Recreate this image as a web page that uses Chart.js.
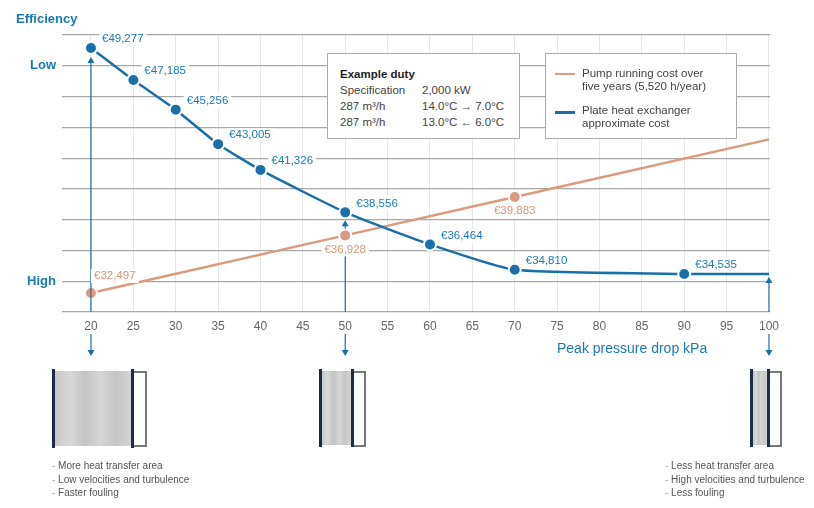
<!DOCTYPE html>
<html>
<head>
<meta charset="utf-8">
<script src="https://cdn.jsdelivr.net/npm/chart.js@4.4.1/dist/chart.umd.min.js"></script>
<style>
  body { margin: 0; background: #fff; font-family: "Liberation Sans", Arial, sans-serif; }
  #wrap { position: relative; width: 814px; height: 508px; }
  canvas { position: absolute; left: 0; top: 0; }
  .t { position: absolute; white-space: nowrap; }
  .box { position: absolute; background: #fff; border: 1px solid #aaa; box-sizing: border-box; font-size: 11.5px; color: #444; }
  .note { font-size: 10px; color: #555; line-height: 13.5px; }
  .note span { color: #d99a7e; }
  .hx { position: absolute; }
  .hx .plates { position: absolute; background: linear-gradient(90deg,#c8c8c8,#d8d8d8 20%,#c4c4c4 40%,#d6d6d6 60%,#c6c6c6 80%,#d4d4d4); }
  .hx .bar { position: absolute; background: #1e2a4a; width: 3px; }
  .hx .frame { position: absolute; border: 2px solid #777; border-left: none; box-sizing: border-box; }
</style>
</head>
<body>
<div id="wrap">
  <canvas id="c" width="814" height="508"></canvas>
  <div class="t" style="left:16px;top:11px;font-size:13px;font-weight:bold;color:#1a7ab8">Efficiency</div>
  <div class="t" style="left:557px;top:340px;font-size:14px;color:#1a7ab8">Peak pressure drop kPa</div>

  <div class="box" style="left:327px;top:53px;width:193px;height:86px;padding:12px 0 0 12px;line-height:16px">
    <b style="color:#222">Example duty</b><br>
    Specification<span style="position:absolute;left:94px">2,000 kW</span><br>
    287 m³/h<span style="position:absolute;left:94px">14.0°C → 7.0°C</span><br>
    287 m³/h<span style="position:absolute;left:94px">13.0°C ← 6.0°C</span>
  </div>
  <div class="box" style="left:545px;top:53px;width:192px;height:86px;line-height:13px">
    <div style="position:absolute;left:9px;top:19px;width:20px;height:2px;background:#d99a7e"></div>
    <div style="position:absolute;left:36px;top:13px">Pump running cost over<br>five years (5,520 h/year)</div>
    <div style="position:absolute;left:9px;top:57px;width:20px;height:3px;background:#1a6fa8"></div>
    <div style="position:absolute;left:36px;top:50px">Plate heat exchanger<br>approximate cost</div>
  </div>

  <div class="hx" style="left:52px;top:369px">
    <div class="bar" style="left:0;top:0;height:79px"></div>
    <div class="plates" style="left:3px;top:2px;width:76px;height:75px"></div>
    <div class="bar" style="left:79px;top:0;height:79px"></div>
    <div class="frame" style="left:82px;top:2px;width:13px;height:76px"></div>
  </div>
  <div class="hx" style="left:319px;top:369px">
    <div class="bar" style="left:0;top:0;height:78px"></div>
    <div class="plates" style="left:3px;top:2px;width:29px;height:74px"></div>
    <div class="bar" style="left:32px;top:0;height:78px"></div>
    <div class="frame" style="left:35px;top:2px;width:12px;height:76px"></div>
  </div>
  <div class="hx" style="left:750px;top:369px">
    <div class="bar" style="left:0;top:0;height:78px"></div>
    <div class="plates" style="left:3px;top:2px;width:14px;height:74px"></div>
    <div class="bar" style="left:17px;top:0;height:78px"></div>
    <div class="frame" style="left:20px;top:2px;width:12px;height:76px"></div>
  </div>

  <div class="t note" style="left:52px;top:459px"><span>-</span> More heat transfer area<br><span>-</span> Low velocities and turbulence<br><span>-</span> Faster fouling</div>
  <div class="t note" style="left:665px;top:459px"><span>-</span> Less heat transfer area<br><span>-</span> High velocities and turbulence<br><span>-</span> Less fouling</div>
</div>
<script>
const pressure = [20, 25, 30, 35, 40, 50, 60, 70, 90, 100]
const exchangerCost = [49277, 47185, 45256, 43005, 41326, 38556, 36464, 34810, 34535, 34535]
const exchangerLabeled = [true, true, true, true, true, true, true, true, true, false]
const pumpPressure = [20, 50, 70, 100]
const pumpCost = [32497, 36928, 39883, 44314]
const pumpLabeled = [true, true, true, false]
const efficiencyTicks = { 1: "High", 8: "Low" }
const arrowXs = [20, 50, 100]

const BLUE = "#1a6fa8", BLUE_TXT = "#1a7ab8", ORANGE = "#d99a7e", ORANGE_TXT = "#d8957a"
const fmt = v => "€" + v.toLocaleString("en-US")

const overlay = {
  id: "overlay",
  afterDatasetsDraw(chart) {
    const ctx = chart.ctx, x = chart.scales.x
    const yb = chart.scales.yb, yo = chart.scales.yo
    const bottom = chart.chartArea.bottom
    ctx.save()
    ctx.strokeStyle = BLUE; ctx.fillStyle = BLUE; ctx.lineWidth = 1.2
    const arrowUp = (px, y0, y1) => {
      ctx.beginPath(); ctx.moveTo(px, y0); ctx.lineTo(px, y1 + 3); ctx.stroke()
      ctx.beginPath(); ctx.moveTo(px, y1); ctx.lineTo(px - 3.5, y1 + 6); ctx.lineTo(px + 3.5, y1 + 6); ctx.fill()
    }
    const arrowDown = (px, y0, y1) => {
      ctx.beginPath(); ctx.moveTo(px, y0); ctx.lineTo(px, y1 - 3); ctx.stroke()
      ctx.beginPath(); ctx.moveTo(px, y1); ctx.lineTo(px - 3.5, y1 - 6); ctx.lineTo(px + 3.5, y1 - 6); ctx.fill()
    }
    arrowUp(x.getPixelForValue(20), bottom, yb.getPixelForValue(exchangerCost[0]) + 9)
    arrowUp(x.getPixelForValue(50), bottom, yo.getPixelForValue(pumpCost[1]) + 7)
    arrowUp(x.getPixelForValue(50), yo.getPixelForValue(pumpCost[1]) - 7, yb.getPixelForValue(exchangerCost[5]) + 8)
    arrowUp(x.getPixelForValue(100), bottom, yb.getPixelForValue(exchangerCost[9]) + 3)
    arrowXs.forEach(v => arrowDown(x.getPixelForValue(v), bottom + 22, bottom + 44))

    ctx.font = "11.5px 'Liberation Sans', Arial, sans-serif"
    ctx.textBaseline = "middle"
    const label = (txt, px, py, color, align) => {
      ctx.textAlign = align
      const w = ctx.measureText(txt).width
      const lx = align === "center" ? px - w / 2 : px
      ctx.fillStyle = "#fff"; ctx.fillRect(lx - 3, py - 7, w + 6, 14)
      ctx.fillStyle = color; ctx.fillText(txt, px, py)
    }
    exchangerCost.forEach((v, i) => {
      if (!exchangerLabeled[i]) return
      label(fmt(v), x.getPixelForValue(pressure[i]) + 11, yb.getPixelForValue(v) - 9, BLUE_TXT, "left")
    })
    pumpCost.forEach((v, i) => {
      if (!pumpLabeled[i]) return
      const px = x.getPixelForValue(pumpPressure[i]), py = yo.getPixelForValue(v)
      if (i === 0) label(fmt(v), px + 3, py - 17, ORANGE_TXT, "left")
      else label(fmt(v), px, py + 14, ORANGE_TXT, "center")
    })
    ctx.restore()
  }
}

new Chart(document.getElementById("c"), {
  type: "line",
  data: {
    datasets: [
      {
        label: "Plate heat exchanger approximate cost",
        data: pressure.map((p, i) => ({ x: p, y: exchangerCost[i] })),
        yAxisID: "yb",
        borderColor: BLUE, borderWidth: 2.5, tension: 0.15,
        pointRadius: exchangerLabeled.map(l => l ? 6 : 0),
        pointBackgroundColor: BLUE, pointBorderColor: "#fff", pointBorderWidth: 2
      },
      {
        label: "Pump running cost over five years",
        data: pumpPressure.map((p, i) => ({ x: p, y: pumpCost[i] })),
        yAxisID: "yo",
        borderColor: ORANGE, borderWidth: 2.5,
        pointRadius: pumpLabeled.map(l => l ? 6 : 0),
        pointBackgroundColor: ORANGE, pointBorderColor: "#fff", pointBorderWidth: 2
      }
    ]
  },
  options: {
    responsive: false,
    animation: false,
    layout: { padding: { top: 35, right: 44, left: 0, bottom: 0 } },
    plugins: { legend: { display: false }, tooltip: { enabled: false } },
    scales: {
      x: {
        type: "linear", min: 16.58, max: 100.12,
        afterBuildTicks: s => { s.ticks = []; for (let v = 20; v <= 100; v += 5) s.ticks.push({ value: v }) },
        afterFit: s => { s.height = 196 },
        grid: { color: "#e8e8e8", drawTicks: false },
        border: { display: false },
        ticks: { color: "#666", padding: 7, font: { size: 12, family: "'Liberation Sans', Arial" } }
      },
      g: {
        position: "left", min: 0, max: 9,
        afterFit: s => { s.width = 62 },
        ticks: { stepSize: 1, padding: 6, color: BLUE_TXT, font: { size: 13, weight: "bold", family: "'Liberation Sans', Arial" },
          callback: v => efficiencyTicks[v] || "" },
        grid: { color: "#a8a8a8", lineWidth: 1.2, drawTicks: false },
        border: { display: false }
      },
      yb: { display: false, min: 32056, max: 50125 },
      yo: { display: false, min: 31035, max: 52343 }
    }
  },
  plugins: [overlay]
})
</script>
</body>
</html>
